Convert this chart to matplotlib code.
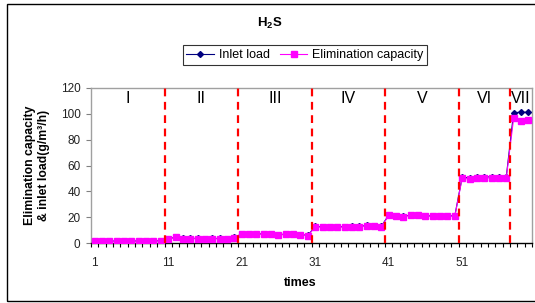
"""H2S biofilter: inlet load vs elimination capacity over the run phases."""

import matplotlib

matplotlib.use("Agg")
import matplotlib.pyplot as plt
from matplotlib.lines import Line2D
from matplotlib.patches import Rectangle

plt.rcParams["font.family"] = ["Liberation Sans", "DejaVu Sans"]
plt.rcParams["mathtext.fontset"] = "custom"
plt.rcParams["mathtext.rm"] = "Liberation Sans"
plt.rcParams["mathtext.bf"] = "Liberation Sans:bold"

# values per phase (g/m3/h)
inlet_load = [
    1.6, 1.4, 1.5, 1.5, 1.6, 1.5, 1.6, 1.7, 1.6, 1.8,
    3.4, 4.4, 3.5, 3.5, 3.6, 3.4, 3.5, 3.5, 3.4, 4.4,
    7.0, 7.1, 7.0, 7.1, 7.0, 6.3, 7.0, 7.1, 6.5, 5.9,
    12.8, 12.6, 12.7, 12.7, 12.6, 12.8, 12.9, 13.6, 13.5, 12.9,
    21.6, 20.9, 20.8, 21.6, 21.6, 21.1, 20.9, 20.9, 21.0, 21.1,
    51.0, 50.4, 51.1, 51.0, 51.3, 51.0, 51.2,
    101.0, 101.2, 101.3,
]
elimination = [
    1.5, 1.2, 1.4, 1.3, 1.5, 1.4, 1.5, 1.6, 1.5, 1.7,
    3.2, 4.3, 3.3, 3.3, 3.4, 3.2, 3.3, 3.3, 3.2, 4.2,
    6.8, 6.9, 6.8, 6.9, 6.8, 6.0, 6.8, 6.9, 6.2, 5.6,
    12.5, 12.3, 12.4, 12.4, 12.3, 12.5, 12.6, 13.4, 13.3, 12.6,
    21.3, 20.6, 20.5, 21.3, 21.3, 20.8, 20.6, 20.6, 20.7, 20.8,
    50.2, 49.5, 50.3, 50.2, 50.6, 50.2, 50.5,
    96.5, 94.5, 95.0,
]
times = list(range(1, len(elimination) + 1))

phase_names = ["I", "II", "III", "IV", "V", "VI", "VII"]
phase_starts = [1, 11, 21, 31, 41, 51, 58]
x_tick_labels = ["1", "11", "21", "31", "41", "51"]
y_ticks = [0, 20, 40, 60, 80, 100, 120]

fig = plt.figure(figsize=(5.35, 3.03), dpi=100)
fig.patches.append(Rectangle((7 / 535, 2 / 303), 1.0, 297 / 303, transform=fig.transFigure,
                             fill=False, edgecolor="black", linewidth=1.0))
ax = fig.add_axes([91 / 535, 1 - 243 / 303, 441 / 535, 155 / 303])

ax.plot(times, inlet_load, color="#000080", linewidth=0.8, marker="D", markersize=3,
        label="Inlet load", zorder=3)
ax.plot(times, elimination, color="#FF00FF", linewidth=0.8, marker="s", markersize=4.2,
        label="Elimination capacity", zorder=4)

n = len(times)
ends = phase_starts[1:] + [n + 1]
for start, end, name in zip(phase_starts, ends, phase_names):
    if start > 1:
        ax.axvline(start - 0.5, color="#FF0000", linewidth=1.6, linestyle=(0, (3.5, 2.5)), zorder=5)
    ax.text((start + end - 1) / 2, 112, name, ha="center", va="center", fontsize=11.5)

ax.set_xlim(0.5, n + 0.5)
ax.set_ylim(0, 120)
ax.set_xticks([int(t) for t in x_tick_labels], x_tick_labels)
ax.set_xticks([i + 0.5 for i in range(n + 1)], minor=True)
ax.tick_params(axis="x", which="major", length=0, pad=10, labelsize=8.5, labelcolor="#222222")
ax.tick_params(axis="x", which="minor", length=3, width=0.8, color="black", direction="out")
ax.set_yticks(y_ticks)
ax.tick_params(axis="y", length=3.5, width=0.8, color="#808080", labelsize=8.5,
               labelcolor="#222222", pad=4)

for side in ("left", "top", "right"):
    ax.spines[side].set_color("#A0A0A0")
    ax.spines[side].set_linewidth(1.0)
ax.spines["bottom"].set_color("black")
ax.spines["bottom"].set_linewidth(1.0)

fig.text(270 / 535, 1 - 23 / 303, r"$\mathbf{H_2S}$", ha="center", va="center", fontsize=9.5)
fig.text(300 / 535, 1 - 283 / 303, "times", ha="center", va="center", fontsize=9,
         fontweight="bold")
fig.text(37 / 535, 1 - 165 / 303, "Elimination capacity\n& inlet load(g/m³/h)", rotation=90,
         ha="center", va="center", fontsize=8.8, fontweight="bold", linespacing=1.2)

handles = [
    Line2D([], [], color="#000080", linewidth=0.8, marker="D", markersize=3),
    Line2D([], [], color="#FF00FF", linewidth=0.8, marker="s", markersize=4.2),
]
leg = fig.legend(handles, ["Inlet load", "Elimination capacity"], ncol=2,
                 loc="center", bbox_to_anchor=(305 / 535, 1 - 55 / 303), fontsize=9,
                 frameon=True, fancybox=False, edgecolor="black", handlelength=2.2,
                 handletextpad=0.4, columnspacing=0.8, borderpad=0.3, borderaxespad=0)
leg.get_frame().set_linewidth(0.8)

fig.savefig("out.png", dpi=100)
